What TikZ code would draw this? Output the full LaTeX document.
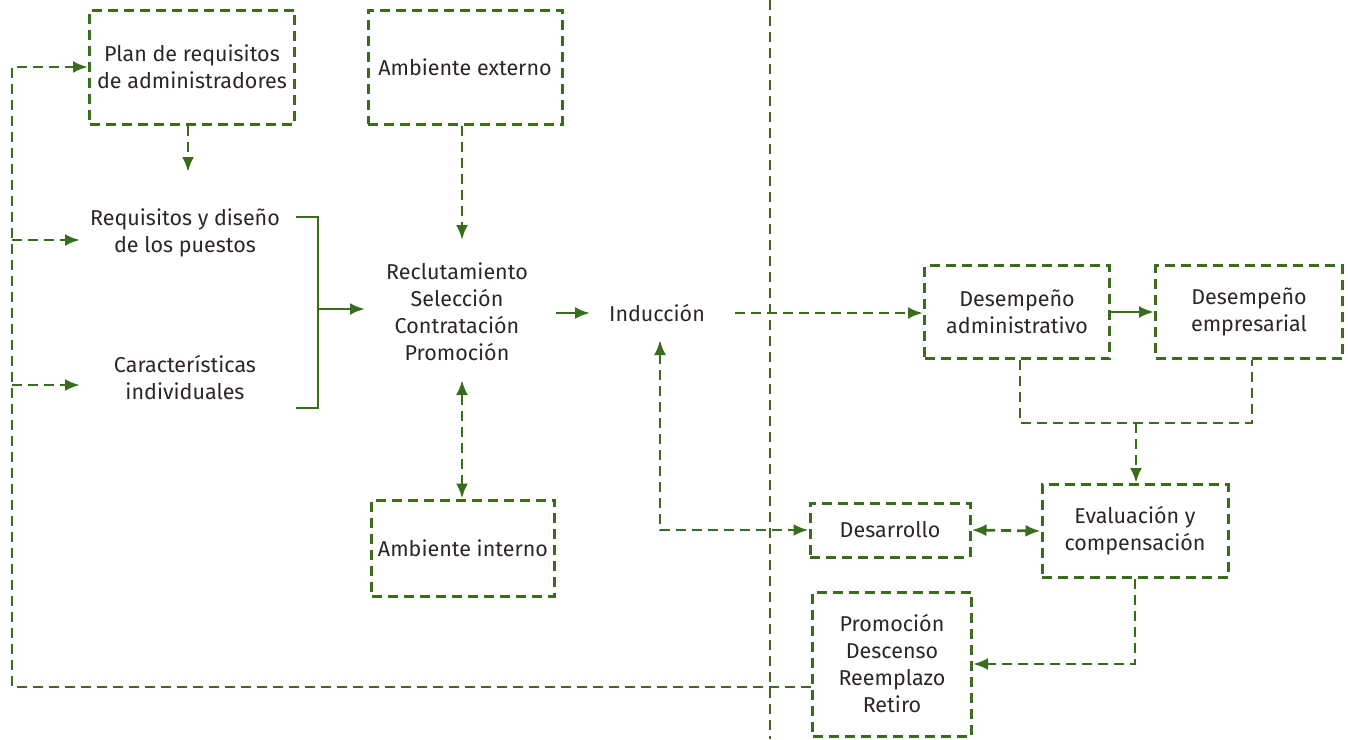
\documentclass[tikz,border=0pt]{standalone}
\usepackage{fontspec}
\setmainfont{Fira Sans}
\usetikzlibrary{arrows.meta}
\definecolor{gr}{RGB}{58,108,30}
\definecolor{txt}{RGB}{45,38,40}
\tikzset{
  every node/.style={font=\fontsize{21.5}{27}\selectfont, text=txt, align=center},
  dbox/.style={draw=gr, line width=3pt, dash pattern=on 10pt off 6pt, inner sep=0pt},
  dline/.style={draw=gr, line width=2.8pt, dash pattern=on 10pt off 6pt},
  sline/.style={draw=gr, line width=2.8pt},
  tip/.style={-{Latex[length=15pt,width=12pt]}},
  tips/.style={{Latex[length=15pt,width=12pt]}-{Latex[length=15pt,width=12pt]}},
}
\begin{document}
\begin{tikzpicture}[x=1pt,y=-1pt]
\useasboundingbox (0,0) rectangle (1348,739);
% boxes
\node[dbox, minimum width=205pt, minimum height=114pt] (plan) at (192,67) {Plan de requisitos\\de administradores};
\node[dbox, minimum width=194pt, minimum height=114pt] (ext) at (465,67) {Ambiente externo};
\node (req) at (185,233) {Requisitos y diseño\\de los puestos};
\node (car) at (185,378) {Características\\individuales};
\node (rec) at (457,312) {Reclutamiento\\Selección\\Contratación\\Promoción};
\node (ind) at (657,313) {Inducción};
\node[dbox, minimum width=183pt, minimum height=96pt] (int) at (463,548) {Ambiente interno};
\node[dbox, minimum width=185pt, minimum height=93pt] (dadm) at (1017,312) {Desempeño\\administrativo};
\node[dbox, minimum width=187pt, minimum height=93pt] (demp) at (1249,312) {Desempeño\\empresarial};
\node[dbox, minimum width=186pt, minimum height=93pt] (eval) at (1135,531) {Evaluación y\\compensación};
\node[dbox, minimum width=160pt, minimum height=54pt] (des) at (890,530) {Desarrollo};
\node[dbox, minimum width=159pt, minimum height=144pt] (prom) at (892,664) {Promoción\\Descenso\\Reemplazo\\Retiro};
% coordinates
\coordinate (pa) at (188,172);
\coordinate (ea) at (462,240);
\coordinate (ia) at (462,380);
\coordinate (bt) at (296,217);
\coordinate (bb) at (296,408);
\coordinate (bm) at (318,309);
\coordinate (ba) at (365,309);
\coordinate (r1) at (556,313);
\coordinate (r2) at (590,313);
\coordinate (i1) at (735,313);
\coordinate (i2) at (660,340);
\coordinate (jn) at (1136,423);
\coordinate (fl) at (12,687);
\coordinate (f1) at (80,240);
\coordinate (f2) at (80,385);
\coordinate (vt) at (770,0);
\coordinate (vb) at (770,739);
% divider
\draw[dline] (vt) -- (vb);
% connectors
\draw[dline, tip] (plan.south -| pa) -- (pa);
\draw[dline, tip] (ext.south -| ea) -- (ea);
\draw[dline, tips] (int.north -| ia) -- (ia);
\draw[sline] (bt) -- (bt -| bm) -- (bb -| bm) -- (bb);
\draw[sline, tip] (bm) -- (ba);
\draw[sline, tip] (r1) -- (r2);
\draw[dline, tip] (i1) -- (dadm.west |- i1);
\draw[sline, tip] (dadm.east) -- (demp.west);
\draw[dline] ([xshift=3pt]dadm.south) |- (jn) -| ([xshift=3pt]demp.south);
\draw[dline, tip] (jn) -- (eval.north -| jn);
\draw[dline, tips] (i2) |- (des.west);
\draw[dline, tips] (des.east) -- (eval.west);
\draw[dline, tip] (eval.south) |- (prom.east);
\draw[dline, tip] (prom.west |- fl) -- (fl) |- (plan.west);
\draw[dline, tip] (fl |- f1) -- (f1);
\draw[dline, tip] (fl |- f2) -- (f2);
\end{tikzpicture}
\end{document}
